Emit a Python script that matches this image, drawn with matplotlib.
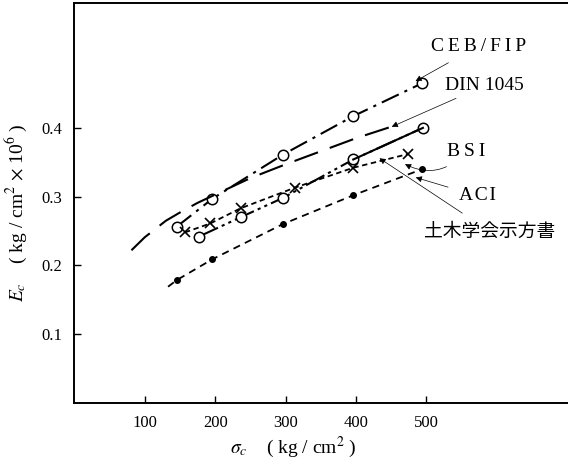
import numpy as np
import matplotlib
matplotlib.use("Agg")
import matplotlib.pyplot as plt

plt.rcParams['font.family'] = ['Liberation Serif', 'DejaVu Serif', 'Noto Sans CJK JP']
plt.rcParams['mathtext.fontset'] = 'stix'

# CEB/FIP (一点鎖線, ○)
ceb_x = [145, 196, 296, 396, 494]
ceb_y = [0.256, 0.297, 0.361, 0.417, 0.465]

# DIN 1045 (長破線)
din_x = [81, 100, 130, 150, 175, 200, 250, 300, 350, 400, 448]
din_y = [0.222, 0.241, 0.265, 0.277, 0.291, 0.303, 0.327, 0.347, 0.366, 0.385, 0.401]

# 土木学会示方書 (二点鎖線, ○)
jsce_x = [177, 236, 296, 396, 495]
jsce_y = [0.242, 0.270, 0.298, 0.354, 0.400]

# BSI (破線, ×)
bsi_x = [157, 193, 236, 313, 396, 474]
bsi_y = [0.248, 0.261, 0.283, 0.313, 0.342, 0.362]

# ACI (破線, ●)  最初の点は線の始まり
aci_x = [133, 146, 196, 296, 396, 494]
aci_y = [0.169, 0.179, 0.209, 0.260, 0.302, 0.340]

xticks = [100, 200, 300, 400, 500]
yticks = [0.1, 0.2, 0.3, 0.4]


def spaced(s, sp="\u2009"):
    # 文字間を少し広げる
    return sp.join(s)


fig = plt.figure(figsize=(5.68, 4.61), dpi=100)
ax = fig.add_axes([0.131, 0.126, 0.869, 0.8666])

lw = 1.5
ax.plot(ceb_x, ceb_y, color='k', lw=lw, dashes=(9, 3, 1.5, 3),
        marker='o', ms=7.5, mfc='white', mec='k', mew=1.1)
ax.plot(din_x, din_y, color='k', lw=lw, dashes=(12, 6))
ax.plot(jsce_x, jsce_y, color='k', lw=lw, dashes=(10, 2, 1.5, 2, 1.5, 2),
        marker='o', ms=7.5, mfc='white', mec='k', mew=1.1)
ax.plot(jsce_x[-2:], jsce_y[-2:], color='k', lw=lw)
ax.plot(bsi_x, bsi_y, color='k', lw=1.3, dashes=(3, 2),
        marker='x', ms=7, mew=1.2)
ax.plot(aci_x, aci_y, color='k', lw=1.3, dashes=(4, 3),
        marker='o', ms=4, mfc='k', mec='k', markevery=[1, 2, 3, 4, 5])

ax.set_xlim(0, 701)
ax.set_ylim(0, 0.581)
ax.set_xticks(xticks)
ax.set_xticklabels([str(v) for v in xticks])
ax.set_yticks(yticks)
ax.set_yticklabels([f"{v:.1f}" for v in yticks])
ax.tick_params(direction='in', length=5, width=1.0, labelsize=12)
ax.tick_params(axis='x', pad=9)
ax.tick_params(axis='y', pad=9)
for s in ['left', 'bottom', 'top']:
    ax.spines[s].set_linewidth(1.4)
ax.spines['right'].set_visible(False)

ax.set_xlabel(r"$\sigma_c$    ( kg / cm$^2$ )", fontsize=14, va='center')
ax.xaxis.set_label_coords(0.444, -0.112)
ax.set_ylabel(r"$E_c$    ( kg / cm$^2$ $\times$ 10$^6$ )", fontsize=14,
              va='center', ha='center')
ax.yaxis.set_label_coords(-0.118, 0.475)

ap = dict(arrowstyle='-|>', color='k', lw=0.5, mutation_scale=9)
tk = dict(fontsize=14, va='center', ha='left')
ax.annotate(spaced("CEB/FIP"), xy=(481, 0.466), xytext=(506, 0.519),
            arrowprops=dict(ap, shrinkA=8), **tk)
ax.annotate("DIN 1045", xy=(447, 0.400), xytext=(526, 0.461),
            arrowprops=dict(ap, shrinkA=2), **tk)
ax.annotate(spaced("BSI"), xy=(466, 0.349), xytext=(529, 0.366),
            arrowprops=dict(ap, shrinkA=6, connectionstyle='arc3,rad=-0.4'), **tk)
ax.annotate(spaced("ACI", "\u200a"), xy=(481, 0.329), xytext=(546, 0.301),
            arrowprops=dict(ap, shrinkA=6), **tk)
ax.annotate("土木学会示方書", xy=(430, 0.358), xytext=(496, 0.25),
            arrowprops=dict(ap, shrinkA=6), fontsize=13.5, va='center', ha='left',
            family=['Noto Sans CJK JP', 'DejaVu Serif'])

fig.savefig("out.png", dpi=100)
